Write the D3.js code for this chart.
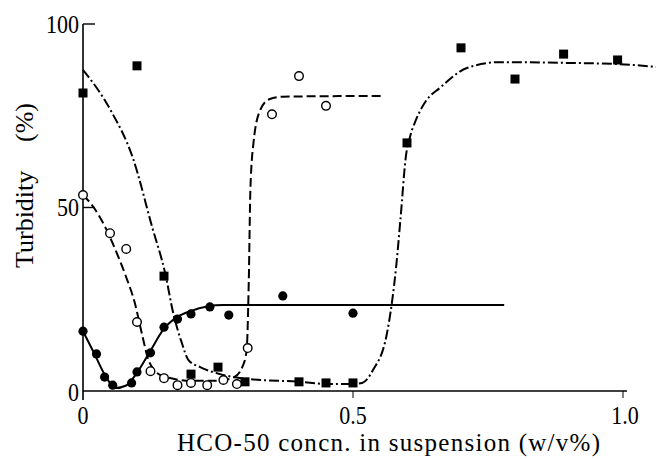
<!DOCTYPE html>
<html><head><meta charset="utf-8">
<script src="https://cdn.jsdelivr.net/npm/d3@7"></script>
<style>
html,body{margin:0;padding:0;background:#fff;}
svg{display:block;}
text{font-family:"Liberation Serif","Times New Roman",serif;fill:#000;}
</style></head>
<body>
<svg id="c" width="656" height="459"></svg>
<script>
// ---- data ----
const xTicks = [0, 0.5, 1.0];
const xTickLabels = ["0", "0.5", "1.0"];
const yTicks = [0, 50, 100];
const yTickLabels = ["0", "50", "100"];

// filled squares (dash-dot curve)
const sqX = [0, 0.1, 0.15, 0.2, 0.25, 0.3, 0.4, 0.45, 0.5, 0.6, 0.7, 0.8, 0.89, 0.99];
const sqY = [81.2, 88.6, 31.3, 4.6, 6.5, 2.5, 2.5, 2.2, 2.2, 67.6, 93.5, 85, 91.8, 90.2];

// open circles (dashed curve)
const ocX = [0, 0.05, 0.08, 0.1, 0.125, 0.15, 0.175, 0.2, 0.23, 0.26, 0.285, 0.305, 0.35, 0.4, 0.45];
const ocY = [53.4, 43, 38.7, 18.8, 5.4, 3.5, 1.6, 2.2, 1.6, 3, 1.9, 11.7, 75.4, 85.8, 77.7];

// filled circles (solid curve)
const fcX = [0, 0.025, 0.04, 0.055, 0.09, 0.1, 0.125, 0.15, 0.175, 0.2, 0.235, 0.27, 0.37, 0.5];
const fcY = [16.3, 10.1, 3.8, 1.6, 2.2, 5.2, 10.4, 17.4, 19.6, 21, 22.9, 20.7, 25.9, 21.2];

// fitted curves
const solidX = [0, 0.02, 0.04, 0.06, 0.08, 0.1, 0.125, 0.15, 0.175, 0.2, 0.23, 0.26, 0.3, 0.78];
const solidY = [16.3, 10.5, 4.5, 0.8, 1.5, 5, 11, 17, 20.2, 21.8, 23, 23.4, 23.4, 23.4];

const dashX = [0, 0.02, 0.04, 0.06, 0.08, 0.095, 0.11, 0.12, 0.13, 0.15, 0.2, 0.25, 0.28, 0.295, 0.303, 0.307, 0.31, 0.316, 0.328, 0.345, 0.37, 0.554];
const dashY = [53.4, 50, 45, 38.5, 31, 24.5, 15, 9, 6, 4, 2.8, 2.8, 3.8, 6.5, 11, 30, 55, 68, 76.5, 79.5, 80.2, 80.4];

const ddX = [0, 0.05, 0.093, 0.128, 0.152, 0.167, 0.183, 0.195, 0.217, 0.254, 0.304, 0.402, 0.452, 0.5, 0.517, 0.537, 0.563, 0.572, 0.58, 0.588, 0.598, 0.606, 0.617, 0.635, 0.661, 0.711, 0.772, 0.896, 0.989, 1.061];
const ddY = [87.5, 76.8, 63.2, 44.7, 32.2, 21.3, 13.1, 8.5, 6.5, 4.6, 3.3, 2.5, 1.9, 1.9, 2.2, 5.7, 15.8, 24, 34, 47, 64, 69.5, 74, 79, 82.6, 88, 89.6, 89.4, 89.1, 88.3];

// ---- drawing ----
const svg = d3.select("#c");
const x = d3.scaleLinear().domain([0, 1]).range([83, 623]);
const y = d3.scaleLinear().domain([0, 100]).range([391, 24]);

const zip = (a, b) => a.map((v, i) => [v, b[i]]);
const line = d3.line().x(d => x(d[0])).y(d => y(d[1])).curve(d3.curveMonotoneX);

// axes
svg.append("line").attr("x1", x(0)).attr("x2", x(0)).attr("y1", y(100)).attr("y2", 400)
  .attr("stroke", "#000").attr("stroke-width", 1.6);
svg.append("line").attr("x1", x(0)).attr("x2", 627).attr("y1", y(0)).attr("y2", y(0))
  .attr("stroke", "#000").attr("stroke-width", 1.6);
// y ticks (inward)
yTicks.filter(v => v > 0).forEach(v => {
  svg.append("line").attr("x1", x(0)).attr("x2", x(0) + 12).attr("y1", y(v)).attr("y2", y(v))
    .attr("stroke", "#000").attr("stroke-width", 1.4);
});
// x ticks (downward)
xTicks.filter(v => v > 0).forEach(v => {
  svg.append("line").attr("x1", x(v)).attr("x2", x(v)).attr("y1", y(0)).attr("y2", y(0) + 7)
    .attr("stroke", "#000").attr("stroke-width", 1);
});

function stretchText(px, py, str, anchor) {
  svg.append("g").attr("transform", `translate(${px},${py}) scale(1,1.16)`)
    .append("text").attr("text-anchor", anchor).attr("dy", "0.35em").attr("fill", "#000")
    .style("font-size", "22px").text(str);
}
yTicks.forEach((v, i) => stretchText(79, y(v) + (v === 0 ? 1 : 0), yTickLabels[i], "end"));
xTicks.forEach((v, i) => stretchText(x(v) + (v === 1 ? 2 : 0), 415, xTickLabels[i], "middle"));

// axis titles
svg.append("text").attr("transform", "translate(33,268) rotate(-90)").attr("fill", "#000")
  .attr("text-anchor", "start").style("font-size", "26px").text("Turbidity");
svg.append("text").attr("transform", "translate(33,103) rotate(-90)").attr("fill", "#000")
  .attr("text-anchor", "end").style("font-size", "26px").text("(%)");
svg.append("text").attr("x", 177).attr("y", 451).style("font-size", "25px").attr("fill", "#000")
  .attr("textLength", 423).attr("lengthAdjust", "spacing")
  .text("HCO-50 concn. in suspension (w/v%)");

// curves
svg.append("path").datum(zip(solidX, solidY)).attr("d", line)
  .attr("fill", "none").attr("stroke", "#000").attr("stroke-width", 2);
svg.append("path").datum(zip(dashX, dashY)).attr("d", line)
  .attr("fill", "none").attr("stroke", "#000").attr("stroke-width", 2)
  .attr("stroke-dasharray", "9,4");
svg.append("path").datum(zip(ddX, ddY)).attr("d", line)
  .attr("fill", "none").attr("stroke", "#000").attr("stroke-width", 2)
  .attr("stroke-dasharray", "10,3,2,3");

// markers
svg.append("g").selectAll("rect").data(zip(sqX, sqY)).join("rect")
  .attr("x", d => x(d[0]) - 4.5).attr("y", d => y(d[1]) - 4.5)
  .attr("width", 9).attr("height", 9).attr("fill", "#000");
svg.append("g").selectAll("circle").data(zip(fcX, fcY)).join("circle")
  .attr("cx", d => x(d[0])).attr("cy", d => y(d[1])).attr("r", 4.6).attr("fill", "#000");
svg.append("g").selectAll("circle").data(zip(ocX, ocY)).join("circle")
  .attr("cx", d => x(d[0])).attr("cy", d => y(d[1])).attr("r", 4.3)
  .attr("fill", "#fff").attr("stroke", "#000").attr("stroke-width", 1.4);
</script>
</body></html>
